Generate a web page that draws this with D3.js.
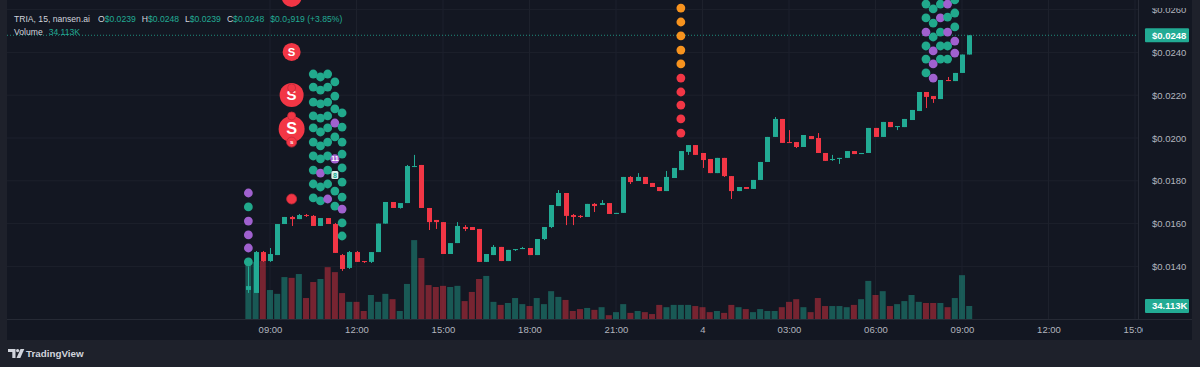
<!DOCTYPE html>
<html>
<head>
<meta charset="utf-8">
<script src="https://cdn.jsdelivr.net/npm/d3@7"></script>
<style>
  html, body { margin: 0; padding: 0; background: #1e212b; }
  svg { display: block; font-family: "Liberation Sans", Arial, sans-serif; }
</style>
</head>
<body>
<div id="chart"></div>
<script>
// 15 minute bars, TRIA
const startTime = new Date(2025, 10, 3, 8, 15)
const barMinutes = 15

const opens = [0.0129, 0.01276, 0.01467, 0.01425, 0.01453, 0.01598, 0.01631, 0.01621, 0.0164, 0.01636,
  0.01589, 0.01626, 0.01598, 0.01453, 0.01393, 0.01467, 0.01425, 0.01421, 0.01467, 0.016,
  0.01701, 0.01673, 0.01696, 0.01866, 0.01874, 0.01673, 0.01617, 0.01607, 0.01458, 0.01509,
  0.01584, 0.01584, 0.01575, 0.01421, 0.01453, 0.01491, 0.01425, 0.01477, 0.01481, 0.01486,
  0.01453, 0.01528, 0.01584, 0.01682, 0.01743, 0.0164, 0.01636, 0.01631, 0.01692, 0.01687,
  0.01696, 0.01645, 0.0165, 0.01818, 0.01799, 0.01818, 0.0179, 0.01771, 0.01752, 0.01813,
  0.0185, 0.01935, 0.01967, 0.0193, 0.01902, 0.01836, 0.01907, 0.01822, 0.01752, 0.01771,
  0.01762, 0.01804, 0.01888, 0.02005, 0.02089, 0.01981, 0.01981, 0.01958, 0.02009, 0.02,
  0.0193, 0.01897, 0.01902, 0.01907, 0.01939, 0.01925, 0.0193, 0.02047, 0.02005, 0.02075,
  0.02051, 0.02051, 0.02084, 0.02126, 0.02215, 0.02196, 0.02182, 0.02271, 0.02266, 0.02304,
  0.0239]
const highs = [0.0140, 0.01472, 0.01472, 0.01486, 0.01598, 0.01631, 0.01636, 0.01645, 0.01645, 0.0164,
  0.01626, 0.01626, 0.01603, 0.01458, 0.01472, 0.01472, 0.01425, 0.01467, 0.016, 0.01701,
  0.01701, 0.01696, 0.01874, 0.01921, 0.01874, 0.01673, 0.01617, 0.01607, 0.01509, 0.01607,
  0.01593, 0.01584, 0.01575, 0.01458, 0.015, 0.01491, 0.01477, 0.01481, 0.01491, 0.01486,
  0.01528, 0.01584, 0.01687, 0.01757, 0.01743, 0.01645, 0.0164, 0.01692, 0.01696, 0.0171,
  0.01696, 0.0165, 0.01818, 0.01822, 0.01836, 0.01818, 0.0179, 0.01771, 0.01846, 0.0186,
  0.01939, 0.01967, 0.01967, 0.0193, 0.01902, 0.01907, 0.01907, 0.01822, 0.01771, 0.01771,
  0.01804, 0.01888, 0.02005, 0.02098, 0.02089, 0.02037, 0.01981, 0.02014, 0.02009, 0.02023,
  0.0193, 0.01921, 0.01907, 0.01939, 0.01939, 0.0193, 0.02047, 0.02047, 0.02075, 0.02075,
  0.02056, 0.02089, 0.02131, 0.02215, 0.02215, 0.02196, 0.02271, 0.02285, 0.02304, 0.0239,
  0.0248]
const lows = [0.01276, 0.01276, 0.01421, 0.01421, 0.01453, 0.01598, 0.01589, 0.01621, 0.01631, 0.01589,
  0.01589, 0.01598, 0.01463, 0.01379, 0.01388, 0.01421, 0.01416, 0.01416, 0.01467, 0.016,
  0.01673, 0.0167, 0.01696, 0.01864, 0.01673, 0.0157, 0.01575, 0.01458, 0.01458, 0.01509,
  0.01565, 0.0157, 0.01421, 0.01421, 0.01453, 0.01425, 0.01425, 0.01472, 0.01481, 0.01453,
  0.01453, 0.01523, 0.01579, 0.01682, 0.01593, 0.01593, 0.01626, 0.01631, 0.01654, 0.01687,
  0.01645, 0.01645, 0.0165, 0.01785, 0.01799, 0.01785, 0.01771, 0.01752, 0.01752, 0.01813,
  0.0185, 0.01921, 0.01921, 0.0186, 0.01836, 0.01836, 0.01818, 0.01715, 0.01752, 0.01762,
  0.01762, 0.01804, 0.01888, 0.02005, 0.01977, 0.01977, 0.01953, 0.01958, 0.01995, 0.0193,
  0.01893, 0.01893, 0.01879, 0.01907, 0.01925, 0.01925, 0.0193, 0.02005, 0.02005, 0.02051,
  0.02037, 0.02051, 0.02084, 0.02126, 0.0214, 0.02164, 0.02182, 0.02266, 0.02266, 0.02304,
  0.0239]
const closes = [0.01308, 0.01467, 0.01425, 0.01458, 0.01598, 0.01631, 0.01621, 0.0164, 0.01636, 0.01589,
  0.01626, 0.01598, 0.01463, 0.01388, 0.01467, 0.01421, 0.01421, 0.01467, 0.016, 0.01701,
  0.01673, 0.01696, 0.01869, 0.01869, 0.01673, 0.01607, 0.01607, 0.01458, 0.01509, 0.01589,
  0.01575, 0.0157, 0.01421, 0.01458, 0.01491, 0.01425, 0.01477, 0.01481, 0.01486, 0.01453,
  0.01528, 0.01584, 0.01687, 0.01743, 0.01636, 0.01631, 0.01631, 0.01692, 0.01682, 0.01696,
  0.01645, 0.0165, 0.01818, 0.01794, 0.01818, 0.01785, 0.01771, 0.01752, 0.01818, 0.0186,
  0.01939, 0.01967, 0.01921, 0.01897, 0.01836, 0.01907, 0.01822, 0.01752, 0.01771, 0.01762,
  0.01804, 0.01888, 0.02005, 0.02089, 0.01977, 0.01977, 0.01958, 0.02014, 0.01995, 0.0193,
  0.01893, 0.01902, 0.01907, 0.01939, 0.01925, 0.0193, 0.02047, 0.02005, 0.02075, 0.02051,
  0.02056, 0.02089, 0.02131, 0.02215, 0.02192, 0.02182, 0.02271, 0.02266, 0.02304, 0.0239,
  0.0248]
// volume in thousands
const volumes = [147, 150, 152, 76, 66, 110, 108, 118, 55, 97,
  105, 136, 123, 68, 45, 45, 21, 63, 45, 66,
  52, 21, 92, 207, 160, 89, 84, 87, 84, 87,
  47, 71, 105, 113, 45, 37, 42, 55, 39, 34,
  55, 39, 73, 58, 50, 21, 26, 29, 24, 31,
  10, 18, 39, 16, 21, 18, 13, 37, 31, 37,
  37, 37, 34, 31, 18, 21, 16, 37, 31, 26,
  18, 26, 21, 21, 31, 45, 52, 31, 18, 55,
  34, 34, 34, 31, 37, 52, 100, 63, 73, 34,
  39, 47, 63, 45, 42, 42, 42, 31, 55, 115,
  34.113]

const priceTicks = [0.014, 0.016, 0.018, 0.02, 0.022, 0.024, 0.026]
const timeTicks = ['2025-11-03 09:00', '2025-11-03 12:00', '2025-11-03 15:00', '2025-11-03 18:00',
  '2025-11-03 21:00', '2025-11-04 00:00', '2025-11-04 03:00', '2025-11-04 06:00',
  '2025-11-04 09:00', '2025-11-04 12:00', '2025-11-04 15:00']

// nansen.ai wallet flow dots: bar index, price, kind
const flowDots = [
  [0, 0.01743, 'p'], [0, 0.01678, 'g'], [0, 0.01612, 'p'], [0, 0.01547, 'p'], [0, 0.01486, 'p'], [0, 0.01421, 'g'],
  [9, 0.02299, 'g'], [9, 0.02238, 'g'], [9, 0.02168, 'g'], [9, 0.02103, 'g'], [9, 0.02047, 'g'],
  [9, 0.01981, 'g'], [9, 0.01916, 'g'], [9, 0.0185, 'g'], [9, 0.01785, 'g'], [9, 0.0172, 'g'],
  [10, 0.02285, 'g'], [10, 0.02224, 'g'], [10, 0.02159, 'g'], [10, 0.02093, 'g'], [10, 0.02028, 'g'],
  [10, 0.01963, 'g'], [10, 0.01902, 'g'], [10, 0.01836, 'p'], [10, 0.01771, 'g'], [10, 0.01706, 'g'],
  [11, 0.02299, 'g'], [11, 0.02238, 'g'], [11, 0.02168, 'g'], [11, 0.02103, 'g'], [11, 0.02047, 'g'],
  [11, 0.01981, 'g'], [11, 0.01916, 'g'], [11, 0.0185, 'g'], [11, 0.01785, 'g'], [11, 0.01715, 'p'],
  [12, 0.02262, 'g'], [12, 0.02196, 'g'], [12, 0.02136, 'g'], [12, 0.0207, 'p'], [12, 0.02005, 'g'],
  [12, 0.01752, 'g'], [12, 0.01682, 'g'],
  [13, 0.02117, 'g'], [13, 0.02051, 'g'], [13, 0.01981, 'g'], [13, 0.01925, 'g'], [13, 0.0186, 'g'],
  [13, 0.01794, 'g'], [13, 0.01724, 'g'], [13, 0.01668, 'p'], [13, 0.01603, 'g'], [13, 0.01542, 'g'],
  [60, 0.02607, 'o'], [60, 0.02542, 'o'], [60, 0.02477, 'o'], [60, 0.02411, 'o'], [60, 0.02346, 'o'],
  [60, 0.0228, 'r'], [60, 0.02215, 'r'], [60, 0.02154, 'r'], [60, 0.02089, 'r'], [60, 0.02023, 'r'],
  [94, 0.02626, 'g'], [94, 0.02561, 'g'], [94, 0.02495, 'p'], [94, 0.0243, 'g'], [94, 0.02369, 'g'], [94, 0.02304, 'g'],
  [95, 0.02603, 'g'], [95, 0.02537, 'g'], [95, 0.02472, 'g'], [95, 0.02407, 'p'], [95, 0.02346, 'p'], [95, 0.0228, 'p'],
  [96, 0.02626, 'g'], [96, 0.02561, 'p'], [96, 0.02495, 'g'], [96, 0.0243, 'g'], [96, 0.02369, 'g'],
  [97, 0.02626, 'p'], [97, 0.02565, 'g'], [97, 0.02495, 'p'], [97, 0.0243, 'g'], [97, 0.02369, 'g'],
  [98, 0.02645, 'g'], [98, 0.02584, 'g'], [98, 0.02519, 'g'], [98, 0.02453, 'p'], [98, 0.02397, 'p']
]
// labelled dots: bar, price, kind, label
const labelDots = [[12, 0.01902, 'p', '11'], [12, 0.01827, 'w', '8']]
// sell markers on bar 6: price, amount (K$), label
const sellBar = 6
const sellMarks = [[0.02659, 100, ''], [0.02402, 81, 'S'], [0.02201, 144, 'S'], [0.02234, 16, ''],
  [0.02042, 169, 'S'], [0.02103, 16, ''], [0.01981, 25, 's'], [0.01715, 25, '']]

const W = 1200, H = 367
const pane = {left: 7, right: 1138, top: 0, bottom: 319}
const axisRight = 1192, axisBottom = 340
const up = '#22ab94', down = '#f23645'
const dotColor = {g: '#21a98c', p: '#a061cf', o: '#f7931e', r: '#f23645', w: '#21a98c'}

const parse = d3.timeParse('%Y-%m-%d %H:%M')
const barTime = i => new Date(startTime.getTime() + i * barMinutes * 60000)
const bars = opens.map((o, i) => ({
  t: barTime(i), o, h: highs[i], l: lows[i], c: closes[i], v: volumes[i]
}))

const x = d3.scaleTime()
  .domain([parse('2025-11-03 09:00'), parse('2025-11-04 09:00')])
  .range([270, 962])
const y = d3.scaleLinear().domain([0.014, 0.026]).range([266.4, 9.6])
const yVol = d3.scaleLinear().domain([0, 34.113]).range([pane.bottom, 306])
const rSell = d3.scaleSqrt().domain([0, 169]).range([0, 13])

const svg = d3.select('#chart').append('svg')
  .attr('width', W).attr('height', H)

svg.append('rect').attr('width', W).attr('height', H).attr('fill', '#1e212b')
svg.append('rect')
  .attr('x', pane.left).attr('y', 0)
  .attr('width', axisRight - pane.left).attr('height', axisBottom)
  .attr('fill', '#131722')

const defs = svg.append('defs')
defs.append('clipPath').attr('id', 'pane-clip').append('rect')
  .attr('x', pane.left).attr('y', pane.top)
  .attr('width', pane.right - pane.left).attr('height', pane.bottom - pane.top)
defs.append('clipPath').attr('id', 'price-clip').append('rect')
  .attr('x', pane.right).attr('y', 8)
  .attr('width', axisRight - pane.right).attr('height', pane.bottom - 8)
defs.append('clipPath').attr('id', 'time-clip').append('rect')
  .attr('x', pane.left).attr('y', pane.bottom)
  .attr('width', 1143 - pane.left).attr('height', axisBottom - pane.bottom)

// grid
const grid = svg.append('g')
grid.selectAll('.hgrid').data(priceTicks).enter().append('line')
  .attr('x1', pane.left).attr('x2', pane.right)
  .attr('y1', d => y(d)).attr('y2', d => y(d))
  .attr('stroke', '#1d212c').attr('stroke-width', 1)
grid.selectAll('.vgrid').data(timeTicks.map(parse)).enter().append('line')
  .attr('x1', d => x(d)).attr('x2', d => x(d))
  .attr('y1', pane.top).attr('y2', pane.bottom)
  .attr('stroke', '#1d212c').attr('stroke-width', 1)

// axes borders
svg.append('line').attr('x1', pane.right + 0.5).attr('x2', pane.right + 0.5)
  .attr('y1', 0).attr('y2', pane.bottom).attr('stroke', '#262a35')
svg.append('line').attr('x1', pane.left).attr('x2', axisRight)
  .attr('y1', pane.bottom + 0.5).attr('y2', pane.bottom + 0.5).attr('stroke', '#262a35')

const plot = svg.append('g').attr('clip-path', 'url(#pane-clip)')

// volume
plot.append('g').selectAll('rect').data(bars).enter().append('rect')
  .attr('x', d => x(d.t) - 3)
  .attr('y', d => yVol(d.v))
  .attr('width', 6)
  .attr('height', d => pane.bottom - yVol(d.v))
  .attr('fill', d => d.c >= d.o ? up : down)
  .attr('fill-opacity', 0.45)

// current price line
const lastPrice = closes[closes.length - 1]
const lastVol = volumes[volumes.length - 1]
plot.append('line')
  .attr('x1', pane.left).attr('x2', pane.right)
  .attr('y1', y(lastPrice)).attr('y2', y(lastPrice))
  .attr('stroke', up).attr('stroke-dasharray', '1,2').attr('stroke-opacity', 0.8)

// candles
const candle = plot.append('g').selectAll('g').data(bars).enter().append('g')
candle.append('line')
  .attr('x1', d => Math.round(x(d.t)) + 0.5).attr('x2', d => Math.round(x(d.t)) + 0.5)
  .attr('y1', d => y(d.h)).attr('y2', d => y(d.l))
  .attr('stroke', d => d.c >= d.o ? up : down)
candle.append('rect')
  .attr('x', d => Math.round(x(d.t)) - 2)
  .attr('y', d => y(Math.max(d.o, d.c)))
  .attr('width', 5)
  .attr('height', d => Math.max(1, Math.abs(y(d.o) - y(d.c))))
  .attr('fill', d => d.c >= d.o ? up : down)

// wallet dots
plot.append('g').selectAll('circle').data(flowDots).enter().append('circle')
  .attr('cx', d => x(barTime(d[0])))
  .attr('cy', d => y(d[1]))
  .attr('r', 4.4)
  .attr('fill', d => dotColor[d[2]])

const lab = plot.append('g').selectAll('g').data(labelDots).enter().append('g')
lab.filter(d => d[2] !== 'w').append('circle')
  .attr('cx', d => x(barTime(d[0]))).attr('cy', d => y(d[1])).attr('r', 4.6)
  .attr('fill', d => dotColor[d[2]])
lab.filter(d => d[2] === 'w').append('rect')
  .attr('x', d => x(barTime(d[0])) - 3.5).attr('y', d => y(d[1]) - 4)
  .attr('width', 7).attr('height', 8).attr('rx', 1.5)
  .attr('fill', '#d9f1ec')
lab.append('text')
  .attr('x', d => x(barTime(d[0]))).attr('y', d => y(d[1]) + 2.5)
  .attr('text-anchor', 'middle')
  .attr('font-size', 7).attr('font-weight', 700)
  .attr('fill', d => d[2] === 'w' ? up : '#ffffff')
  .text(d => d[3])

// sell markers
const sells = plot.append('g').selectAll('g')
  .data(sellMarks.slice().sort((a, b) => b[1] - a[1])).enter().append('g')
sells.append('circle')
  .attr('cx', x(barTime(sellBar)))
  .attr('cy', d => y(d[0]))
  .attr('r', d => rSell(d[1]))
  .attr('fill', down)
  .attr('stroke', d => d[1] < 30 ? '#c42a38' : 'none')
  .attr('stroke-width', 0.8)
sells.append('text')
  .attr('x', x(barTime(sellBar)))
  .attr('y', d => y(d[0]) + rSell(d[1]) * 0.42)
  .attr('text-anchor', 'middle')
  .attr('font-size', d => rSell(d[1]) * 1.25)
  .attr('font-weight', 700)
  .attr('fill', '#ffffff')
  .text(d => d[2])

// price axis
const fmtPrice = d => '$' + d3.format('.4f')(d)
svg.append('g').attr('clip-path', 'url(#price-clip)')
  .append('g')
  .attr('transform', `translate(${pane.right}, 0)`)
  .call(d3.axisRight(y).tickValues(priceTicks).tickSize(0).tickPadding(14).tickFormat(fmtPrice))
  .call(g => g.select('.domain').remove())
  .call(g => g.selectAll('text').attr('fill', '#b2b5be').attr('font-size', 9.5)
    .attr('font-family', '"Liberation Sans", Arial, sans-serif'))

// time axis
const fmtTime = d => d.getHours() === 0 && d.getMinutes() === 0 ? String(d.getDate()) : d3.timeFormat('%H:%M')(d)
svg.append('g').attr('clip-path', 'url(#time-clip)')
  .append('g')
  .attr('transform', `translate(0, ${pane.bottom})`)
  .call(d3.axisBottom(x).tickValues(timeTicks.map(parse)).tickSize(0).tickPadding(7).tickFormat(fmtTime))
  .call(g => g.select('.domain').remove())
  .call(g => g.selectAll('text').attr('fill', '#b2b5be').attr('font-size', 9.5)
    .attr('font-family', '"Liberation Sans", Arial, sans-serif'))

// last price / volume tags
const tag = (cy, label) => {
  svg.append('rect').attr('x', 1145).attr('y', cy - 7).attr('width', 44).attr('height', 14)
    .attr('rx', 1).attr('fill', up)
  svg.append('text').attr('x', 1152).attr('y', cy + 3.4)
    .attr('font-size', 9.5).attr('font-weight', 700).attr('fill', '#ffffff').text(label)
}
tag(y(lastPrice), fmtPrice(lastPrice))
tag(yVol(lastVol), d3.format('.3f')(lastVol) + 'K')

// legend
const legend = svg.append('text').attr('x', 14).attr('y', 22).attr('font-size', 8.6).attr('fill', '#d1d4dc')
legend.append('tspan').text('TRIA, 15, nansen.ai')
const last = bars[bars.length - 1]
const ohlc = [['O', last.o], ['H', last.h], ['L', last.l], ['C', last.c]]
ohlc.forEach(([k, v], i) => {
  legend.append('tspan').attr('dx', i === 0 ? 8 : 6).text(k)
  legend.append('tspan').attr('fill', up).text(fmtPrice(v))
})
legend.append('tspan').attr('dx', 6).attr('fill', up).text('$0.0\u2083919 (+3.85%)')

const volLegend = svg.append('text').attr('x', 14).attr('y', 35).attr('font-size', 8.6).attr('fill', '#d1d4dc')
volLegend.append('tspan').text('Volume')
volLegend.append('tspan').attr('dx', 6).attr('fill', up).text(d3.format('.3f')(lastVol) + 'K')

// TradingView mark
const logo = svg.append('g').attr('fill', '#d1d4dc')
logo.append('path').attr('d', 'M8 349h7.5v9h-3.2v-6h-4.3z')
logo.append('circle').attr('cx', 17.6).attr('cy', 350.6).attr('r', 1.6)
logo.append('path').attr('d', 'M20.5 349h3.8l-4 9h-3.8z')
svg.append('text').attr('x', 26).attr('y', 357).attr('font-size', 9.8)
  .attr('font-weight', 600).attr('fill', '#d1d4dc').text('TradingView')
</script>
</body>
</html>
